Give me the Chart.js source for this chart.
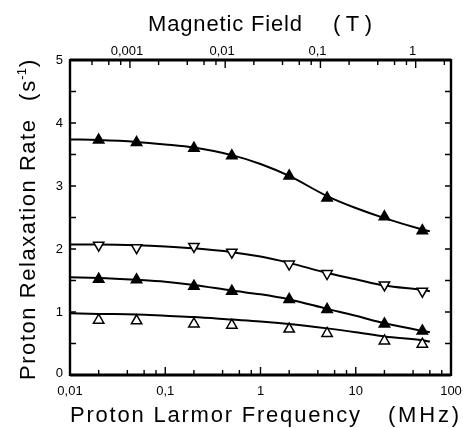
<!DOCTYPE html>
<html>
<head>
<meta charset="utf-8">
<script src="https://cdn.jsdelivr.net/npm/chart.js@4/dist/chart.umd.min.js"></script>
<style>
html,body{margin:0;padding:0;background:#fff;}
#wrap{width:463px;height:428px;}
</style>
</head>
<body>
<div id="wrap"><canvas id="c" width="463" height="428"></canvas></div>
<script>
// ---- data ----
const freqMHz = [0.02, 0.05, 0.2, 0.5, 2, 5, 20, 50];
const rateA = [3.73, 3.69, 3.60, 3.48, 3.16, 2.81, 2.51, 2.29]; // filled triangles (top)
const rateB = [2.06, 2.02, 2.04, 1.95, 1.76, 1.61, 1.43, 1.33]; // open down triangles
const rateC = [1.52, 1.51, 1.41, 1.33, 1.20, 1.04, 0.81, 0.70]; // filled triangles
const rateD = [0.87, 0.86, 0.81, 0.79, 0.73, 0.66, 0.54, 0.49]; // open up triangles

const fitMHz = [0.01, 0.02, 0.05, 0.1, 0.2, 0.5, 1, 2, 5, 10, 20, 50, 60];
const fitA = [3.74, 3.73, 3.70, 3.66, 3.61, 3.49, 3.35, 3.16, 2.84, 2.65, 2.49, 2.31, 2.28];
const fitB = [2.07, 2.07, 2.06, 2.04, 2.01, 1.95, 1.88, 1.78, 1.62, 1.52, 1.42, 1.35, 1.33];
const fitC = [1.55, 1.54, 1.51, 1.48, 1.43, 1.34, 1.28, 1.20, 1.05, 0.94, 0.82, 0.70, 0.68];
const fitD = [0.98, 0.97, 0.96, 0.94, 0.92, 0.88, 0.85, 0.81, 0.74, 0.68, 0.61, 0.55, 0.53];

const freqTicks = [0.01, 0.1, 1, 10, 100];
const freqTickLabels = ['0,01', '0,1', '1', '10', '100'];
const fieldTicks = [0.001, 0.01, 0.1, 1];
const fieldTickLabels = ['0,001', '0,01', '0,1', '1'];
const rateTicks = [0, 1, 2, 3, 4, 5];
const minorMultiples = [2, 4, 6, 8];
const MHZ_PER_TESLA = 42.58;

function pts(xs, ys){ return xs.map((x,i)=>({x:x, y:ys[i]})); }

const lineStyle = {showLine:true, pointRadius:0, borderColor:'#000', borderWidth:2, cubicInterpolationMode:'monotone', fill:false, order:2};
function markers(ys, filled, rot){
  return {data: pts(freqMHz, ys), showLine:false, pointStyle:'triangle', pointRadius:6, pointRotation:rot,
    pointBackgroundColor: filled ? '#000' : '#fff', pointBorderColor:'#000', pointBorderWidth:1.5, order:1};
}

const NARROW = '"Liberation Sans Narrow", "Arial Narrow", "Liberation Sans", Arial, sans-serif';
const SANS = '"Liberation Sans", Arial, Helvetica, sans-serif';

// draw text spread so that it spans from x0 to x1 (baseline y) in current transform
function spreadText(ctx, text, x0, x1, y){
  const chars = Array.from(text);
  const widths = chars.map(c => ctx.measureText(c).width);
  const total = widths.reduce((s,w)=>s+w, 0);
  const gap = chars.length > 1 ? ((x1 - x0) - total) / (chars.length - 1) : 0;
  let x = x0;
  ctx.textAlign = 'left';
  chars.forEach((c,i)=>{ ctx.fillText(c, x, y); x += widths[i] + gap; });
}

const framePlugin = {
  id:'frame',
  afterDraw(chart){
    const ctx = chart.ctx, x = chart.scales.x, y = chart.scales.y, a = chart.chartArea;
    ctx.save();
    ctx.strokeStyle = '#000';
    ctx.fillStyle = '#000';
    // frame
    ctx.lineWidth = 2.8;
    ctx.beginPath();
    ctx.moveTo(a.left, a.top); ctx.lineTo(a.right, a.top);
    ctx.moveTo(a.left, a.bottom); ctx.lineTo(a.right, a.bottom);
    ctx.stroke();
    ctx.lineWidth = 2.4;
    ctx.beginPath();
    ctx.moveTo(a.left, a.top-1); ctx.lineTo(a.left, a.bottom+1);
    ctx.moveTo(a.right, a.top-1); ctx.lineTo(a.right, a.bottom+1);
    ctx.stroke();
    ctx.lineWidth = 1.4;
    ctx.beginPath();
    // bottom ticks (frequency)
    for (let d = 0.01; d <= 100.0001; d *= 10){
      const px = x.getPixelForValue(d);
      ctx.moveTo(px, a.bottom); ctx.lineTo(px, a.bottom-8);
      if (d < 99) for (const m of minorMultiples){
        const p2 = x.getPixelForValue(d*m);
        ctx.moveTo(p2, a.bottom); ctx.lineTo(p2, a.bottom-5);
      }
    }
    // top ticks (field)
    for (let d = 0.0001; d <= 1.0001; d *= 10){
      if (d*MHZ_PER_TESLA >= 0.01) {
        const px = x.getPixelForValue(d*MHZ_PER_TESLA);
        ctx.moveTo(px, a.top); ctx.lineTo(px, a.top+8);
      }
      for (const m of minorMultiples){
        const v = d*m*MHZ_PER_TESLA;
        if (v < 0.01 || v > 100) continue;
        const p2 = x.getPixelForValue(v);
        ctx.moveTo(p2, a.top); ctx.lineTo(p2, a.top+5);
      }
    }
    // left & right ticks
    for (let v = 0.5; v < 5; v += 0.5){
      const py = y.getPixelForValue(v);
      ctx.moveTo(a.left, py); ctx.lineTo(a.left+6, py);
      ctx.moveTo(a.right, py); ctx.lineTo(a.right-6, py);
    }
    ctx.stroke();

    // tick labels
    ctx.font = '13px ' + NARROW;
    ctx.textAlign = 'center'; ctx.textBaseline = 'top';
    freqTicks.forEach((v,i)=>{ ctx.fillText(freqTickLabels[i], x.getPixelForValue(v), a.bottom+10); });
    ctx.textBaseline = 'bottom';
    fieldTicks.forEach((v,i)=>{ ctx.fillText(fieldTickLabels[i], x.getPixelForValue(v*MHZ_PER_TESLA) - 3, a.top-2); });
    ctx.textAlign = 'right'; ctx.textBaseline = 'middle';
    rateTicks.forEach(v=>{ ctx.fillText(String(v), a.left-7, y.getPixelForValue(v) - (v===0?2:0)); });

    // titles
    ctx.font = '22px ' + SANS;
    ctx.textBaseline = 'alphabetic';
    spreadText(ctx, 'Magnetic Field', 148, 302, 31);
    spreadText(ctx, '(T)', 333, 372, 31);
    spreadText(ctx, 'Proton Larmor Frequency', 70, 360, 422);
    spreadText(ctx, '(MHz)', 388, 459, 422);

    // y title rotated
    ctx.save();
    ctx.translate(35, 0);
    ctx.rotate(-Math.PI/2);
    spreadText(ctx, 'Proton Relaxation Rate', -380, -120, 0);
    // (s^-1) spanning y=100..57
    const wOpen = ctx.measureText('(s').width;
    const wClose = ctx.measureText(')').width;
    ctx.font = '13px ' + SANS;
    const wSup = ctx.measureText('-1').width;
    const start = -101;
    ctx.font = '22px ' + SANS;
    ctx.textAlign = 'left';
    ctx.fillText('(', start, 0);
    ctx.fillText('s', start + ctx.measureText('(').width + 2, 0);
    ctx.font = '13px ' + SANS;
    ctx.fillText('-1', start + wOpen + 3, -9);
    ctx.font = '22px ' + SANS;
    ctx.fillText(')', start + wOpen + wSup + 4, 0);
    ctx.restore();

    ctx.restore();
  }
};

new Chart(document.getElementById('c'), {
  type:'scatter',
  data:{datasets:[
    Object.assign({data: pts(fitMHz, fitA)}, lineStyle),
    Object.assign({data: pts(fitMHz, fitB)}, lineStyle),
    Object.assign({data: pts(fitMHz, fitC)}, lineStyle),
    Object.assign({data: pts(fitMHz, fitD)}, lineStyle),
    markers(rateA, true, 0),
    markers(rateB, false, 180),
    markers(rateC, true, 0),
    markers(rateD, false, 0)
  ]},
  options:{
    responsive:false, animation:false,
    layout:{padding:{left:70, right:12, top:60, bottom:53}},
    plugins:{legend:{display:false}, tooltip:{enabled:false}},
    scales:{
      x:{type:'logarithmic', min:0.01, max:100, display:false},
      y:{type:'linear', min:0, max:5, display:false}
    }
  },
  plugins:[framePlugin]
});
</script>
</body>
</html>
